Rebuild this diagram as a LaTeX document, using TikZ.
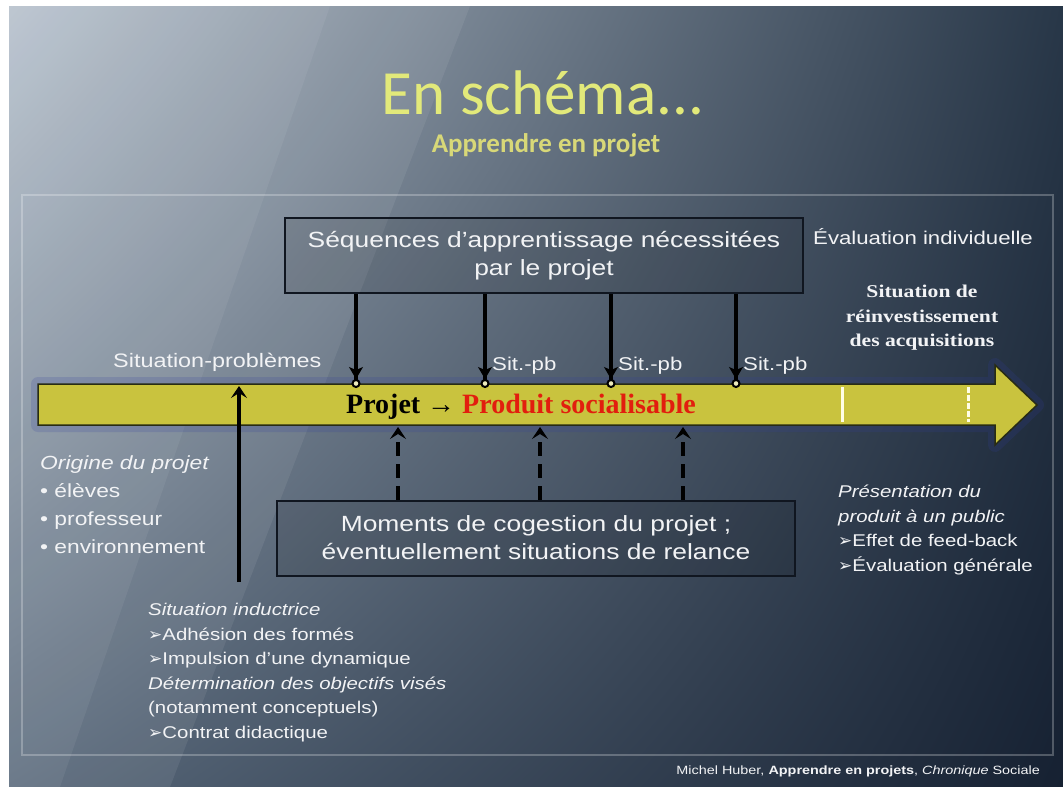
\documentclass[tikz,border=0pt]{standalone}
\usepackage{fontspec}
\setmainfont{Liberation Sans}[FakeStretch=1.2]
\newfontfamily\serifbar{Liberation Serif}
\newfontfamily\serifwide{Liberation Serif}[FakeStretch=1.2]
\newfontfamily\titlefont{Carlito}
\newfontfamily\dingfont{DejaVu Sans}
\usetikzlibrary{arrows.meta,positioning,shadings}
\newcommand\pointer{{\dingfont\char"27A2}}
\definecolor{slidetl}{RGB}{181,192,204}
\definecolor{slidetr}{RGB}{40,55,72}
\definecolor{slidebl}{RGB}{88,104,122}
\definecolor{slidebr}{RGB}{22,33,50}
\definecolor{titlecol}{RGB}{226,233,122}
\definecolor{subcol}{RGB}{216,216,120}
\definecolor{barfill}{RGB}{201,195,62}
\definecolor{barline}{RGB}{40,44,20}
\definecolor{barglow}{RGB}{50,62,160}
\definecolor{panelline}{RGB}{16,22,32}
\definecolor{prodred}{RGB}{226,30,14}
\definecolor{textcol}{RGB}{242,243,245}
\tikzset{
panel/.style={
  draw=panelline, line width=2pt,
  fill=black, fill opacity=0.1, text opacity=1,
  minimum width=518pt, minimum height=75pt,
  align=center, text=textcol,
  font=\fontsize{22}{28}\selectfont
},
note/.style={text=textcol, align=left, inner sep=0pt},
title/.style={text=titlecol, font=\titlefont\fontsize{63}{70}\selectfont, anchor=base,
  inner sep=0pt, text depth=0pt},
subtitle/.style={text=subcol, font=\titlefont\bfseries\fontsize{27}{30}\selectfont, anchor=base,
  inner sep=0pt},
seqarrow/.style={line width=4pt,
  -{Stealth[length=12pt,width=14pt,inset=3pt,line width=1pt]
    Circle[length=9pt,line width=2pt,fill=white!65!barfill]}},
cogarrow/.style={line width=4pt, dash pattern=on 14pt off 8pt,
  -{Stealth[length=12pt,width=16pt,inset=5pt,line width=1pt]}},
indarrow/.style={line width=4pt,
  -{Stealth[length=12pt,width=16pt,inset=5pt,line width=1pt]}},
sitlabel/.style={note, font=\fontsize{18.5}{22}\selectfont},
tickline/.style={draw=white!90!yellow, line width=3pt},
}

\begin{document}
\begin{tikzpicture}[x=1pt,y=-1pt]
\useasboundingbox (0,0) rectangle (1063,787);
% the slide
\fill[white] (0,0) rectangle (1063,787);
\shade[upper left=slidetl, upper right=slidetr,
       lower left=slidebl, lower right=slidebr] (9,6) rectangle (1063,787);
\fill[white, opacity=0.07] (9,6) -- (470,6) -- (170,787) -- (9,787) -- cycle;
\fill[white, opacity=0.06] (9,6) -- (330,6) -- (60,787) -- (9,787) -- cycle;
\draw[white, opacity=0.25, line width=1.5pt] (22,195) rectangle (1053,755);

% title
\node[title] (title) at (543,114) {En schéma...};
\node[subtitle] (subtitle) at (546,152) {Apprendre en projet};

% the bar
\draw[barglow, opacity=0.18, line width=14pt, line join=round]
  (38,384) -- (995,384) -- (995,365) -- (1037,405) -- (995,445) -- (995,425) -- (38,425) -- cycle;
\draw[fill=barfill, draw=barline, line width=1.5pt]
  (38,384) -- (995,384) -- (995,365) -- (1037,405) -- (995,445) -- (995,425) -- (38,425) -- cycle;
\draw[tickline] (842,387) -- (842,422);
\draw[tickline, dash pattern=on 6pt off 2pt] (968,387) -- (968,422);
\node[anchor=base, font=\serifbar\bfseries\fontsize{28}{30}\selectfont] (product) at (521,413)
  {Projet → \textcolor{prodred}{Produit socialisable}};

% the boxes
\node[panel] (seq) at (544,255.5) {Séquences d'apprentissage nécessitées\\par le projet};
\node[panel] (mom) at (536,538) {Moments de cogestion du projet ;\\éventuellement situations de relance};

% points on the bar
\foreach \i/\x in {1/356,2/485,3/611,4/736}
  \coordinate (top\i) at (\x,388);
\foreach \i/\x in {1/398,2/540,3/683}
  \coordinate (bot\i) at (\x,427);
\coordinate (indstart) at (239,582);
\coordinate (indend) at (239,386);

% the arrows
\foreach \i in {1,...,4}
  \draw[seqarrow] (seq.south -| top\i) -- (top\i);
\foreach \i in {1,2,3}
  \draw[cogarrow] (mom.north -| bot\i) -- (bot\i);
\draw[indarrow] (indstart) -- (indend);

% labels
\foreach \i in {2,3,4}
  \node[sitlabel, above right=13pt and 7pt of top\i] (sit\i) {Sit.-pb};
\node[note, anchor=base west, font=\fontsize{19.5}{22}\selectfont] (sitpb) at (113,367) {Situation-problèmes};
\node[note, anchor=base west, font=\fontsize{18.5}{20}\selectfont] (evalind) at (813,244) {Évaluation individuelle};
\node[note, align=center, font=\serifwide\bfseries\fontsize{18}{24.5}\selectfont] (reinv) at (922,318)
  {Situation de\\réinvestissement\\des acquisitions};
\node[note, anchor=north west, font=\fontsize{19}{28}\selectfont] (origin) at (40,456)
  {\textit{Origine du projet}\\• élèves\\• professeur\\• environnement};
\node[note, anchor=north west, font=\fontsize{17}{24.5}\selectfont] (induc) at (148,603)
  {\textit{Situation inductrice}\\\pointer Adhésion des formés\\\pointer Impulsion d'une dynamique\\
   \textit{Détermination des objectifs visés}\\(notamment conceptuels)\\\pointer Contrat didactique};
\node[note, anchor=north west, font=\fontsize{17}{24.5}\selectfont] (present) at (838,485)
  {\textit{Présentation du}\\\textit{produit à un public}\\\pointer Effet de feed-back\\\pointer Évaluation générale};
\node[note, anchor=base east, font=\fontsize{12}{14}\selectfont] (credit) at (1040,774)
  {Michel Huber, \textbf{Apprendre en projets}, \textit{Chronique} Sociale};
\end{tikzpicture}
\end{document}
